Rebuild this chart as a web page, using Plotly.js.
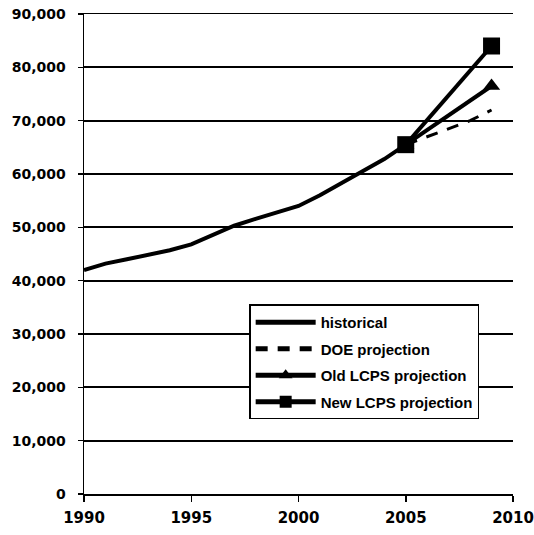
<!DOCTYPE html>
<html>
<head>
<meta charset="utf-8">
<script src="https://cdn.plot.ly/plotly-3.0.1.min.js"></script>
<style>html,body{margin:0;padding:0;background:#fff;}#chart{width:534px;height:535px;}</style>
</head>
<body>
<div id="chart"></div>
<script>
var histYears = [1990,1991,1992,1993,1994,1995,1996,1997,1998,1999,2000,2001,2002,2003,2004,2005];
var histValues = [42000,43200,44000,44800,45700,46800,48500,50300,51600,52800,54000,56000,58300,60500,62800,65500];
var projYears = [2005,2006,2007,2008,2009];
var doeValues = [65500,67000,68500,70000,72000];
var oldYears = [2005,2009];
var oldValues = [65500,76500];
var newYears = [2005,2009];
var newValues = [65500,84000];
var yTicks = [0,10000,20000,30000,40000,50000,60000,70000,80000,90000];
var xTicks = [1990,1995,2000,2005,2010];

var traces = [
  {x: histYears, y: histValues, name: 'historical', mode: 'lines', legendgroup: 'a',
   line: {color: '#000', width: 4}},
  {x: projYears, y: doeValues, name: 'DOE projection', mode: 'lines', legendgroup: 'b',
   line: {color: '#000', width: 3, dash: '12px,10px'}},
  {x: oldYears, y: oldValues, name: 'Old LCPS projection', mode: 'lines+markers', legendgroup: 'c',
   line: {color: '#000', width: 4}, marker: {symbol: 'triangle-up', size: 15, color: '#000'}},
  {x: newYears, y: newValues, name: 'New LCPS projection', mode: 'lines+markers', legendgroup: 'd',
   line: {color: '#000', width: 4}, marker: {symbol: 'square', size: 17, color: '#000'}}
];

var layout = {
  width: 534, height: 535,
  margin: {l: 84, r: 21, t: 14, b: 41},
  paper_bgcolor: '#fff', plot_bgcolor: '#fff',
  font: {family: 'Liberation Sans, Arial, sans-serif', color: '#000', size: 13, weight: 'bold'},
  showlegend: true,
  legend: {x: 0.385, y: 0.395, xanchor: 'left', yanchor: 'top',
    bgcolor: '#fff', bordercolor: '#000', borderwidth: 1.5,
    font: {size: 15, weight: 'bold', family: 'Liberation Sans, Arial, sans-serif'},
    itemwidth: 60, tracegroupgap: 4, traceorder: 'grouped', itemsizing: 'constant'},
  xaxis: {range: [1990, 2010], tickvals: xTicks, ticktext: xTicks.map(String),
    showgrid: false, zeroline: false, showline: true, linecolor: '#000', linewidth: 1.5,
    mirror: true, ticks: 'outside', ticklen: 6, tickcolor: '#000', tickwidth: 1.5,
    ticklabelstandoff: 3, tickfont: {family: 'DejaVu Sans, sans-serif', size: 15, weight: 'bold', color: '#000'}},
  yaxis: {range: [0, 90000], tickvals: yTicks,
    ticktext: yTicks.map(function(v){return v.toLocaleString('en-US');}),
    showgrid: true, gridcolor: '#000', gridwidth: 2, zeroline: false,
    showline: true, linecolor: '#000', linewidth: 1.5,
    ticks: 'outside', ticklen: 5, tickcolor: '#000', tickwidth: 1.5,
    ticklabelstandoff: 9, tickfont: {family: 'DejaVu Sans, sans-serif', size: 14, weight: 'bold', color: '#000'}}
};

Plotly.newPlot('chart', traces, layout, {displayModeBar: false, staticPlot: true});
</script>
</body>
</html>
